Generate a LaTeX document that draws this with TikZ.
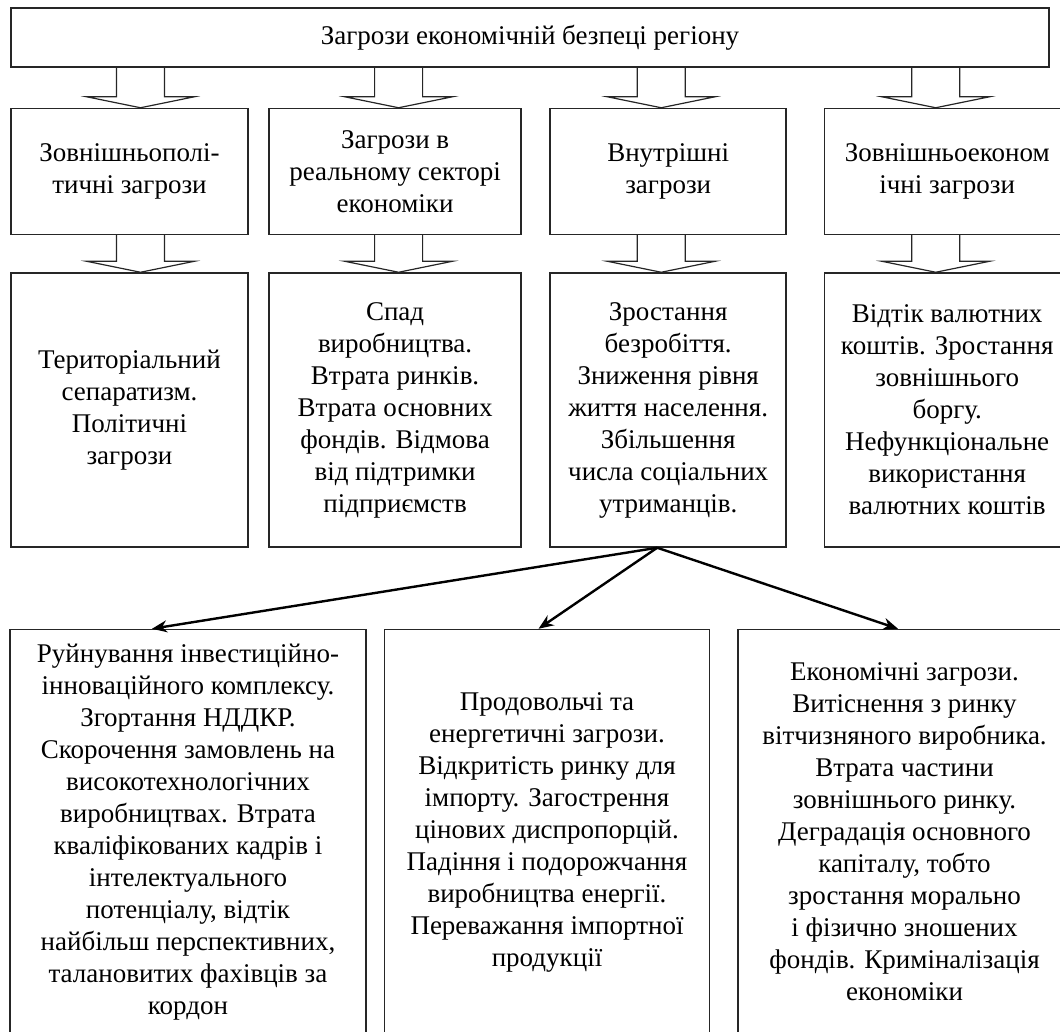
\documentclass[tikz,border=0pt]{standalone}
\usepackage{fontspec}
\setmainfont{Liberation Serif}
\usepackage{tikz}
\usetikzlibrary{positioning,calc,arrows.meta}
\tikzset{
  box/.style={draw=black!85, line width=0.75pt, align=center, inner sep=2pt, font=\fontsize{13.5}{16}\selectfont},
  rowtwo/.style={box, minimum height=63pt},
  rowthree/.style={box, minimum height=137pt},
  rowfour/.style={box, minimum height=202.5pt},
  fat/.style={draw=black!85, line width=0.6pt},
  arrow/.style={-{Stealth[length=7.5pt,width=6pt]}, line width=1.2pt}
}
% hollow block arrow: from node, to node, x offset of the arrow
\newcommand{\fatarrow}[3]{%
  \coordinate (tip) at ($(#2.north)+(#3,0)$);
  \coordinate (root) at (tip |- #1.south);
  \draw[fat] ($(root)+(-24,0)$) -- ($(tip)+(-24,-11)$) -- ++(-30,0) -- (tip)
    -- ++(54,-11) -- ++(-30,0) -- ($(root)+(24,0)$);
}

\begin{document}
\begin{tikzpicture}[x=0.5pt, y=-0.5pt]
  \useasboundingbox (0,0) rectangle (1060,1032);
  \clip (0,0) rectangle (1060,1032);

  \node[box, minimum width=519pt, minimum height=29.5pt] (threats) at (530,37.5) {Загрози економічній безпеці регіону};

  \node[rowtwo, minimum width=118.5pt, below right=20pt and 0pt of threats.south west] (polit) {Зовнішньополі-\\тичні загрози};
  \node[rowtwo, minimum width=126pt, right=9.8pt of polit] (real) {Загрози в\\реальному секторі\\економіки};
  \node[rowtwo, minimum width=118pt, right=13.8pt of real] (inner) {Внутрішні\\загрози};
  \node[rowtwo, minimum width=122.5pt, right=18.5pt of inner] (foreign) {Зовнішньоеконом\\ічні загрози};

  \node[rowthree, minimum width=118.5pt, below=18.5pt of polit] (separ) {Територіальний\\сепаратизм.\\Політичні\\загрози};
  \node[rowthree, minimum width=126pt, below=18.5pt of real] (prod) {Спад\\виробництва.\\Втрата ринків.\\Втрата основних\\фондів. Відмова\\від підтримки\\підприємств};
  \node[rowthree, minimum width=118pt, below=18.5pt of inner] (social) {Зростання\\безробіття.\\Зниження рівня\\життя населення.\\Збільшення\\числа соціальних\\утриманців.};
  \node[rowthree, minimum width=122.5pt, below=18.5pt of foreign] (currency) {Відтік валютних\\коштів. Зростання\\зовнішнього\\боргу.\\Нефункціональне\\використання\\валютних коштів};

  \node[rowfour, minimum width=178pt, below right=40.5pt and -0.5pt of separ.south west] (invest) {Руйнування інвестиційно-\\інноваційного комплексу.\\Згортання НДДКР.\\Скорочення замовлень на\\високотехнологічних\\виробництвах. Втрата\\кваліфікованих кадрів і\\інтелектуального\\потенціалу, відтік\\найбільш перспективних,\\талановитих фахівців за\\кордон};
  \node[rowfour, minimum width=162.5pt, right=8.5pt of invest] (food) {Продовольчі та\\енергетичні загрози.\\Відкритість ринку для\\імпорту. Загострення\\цінових диспропорцій.\\Падіння і подорожчання\\виробництва енергії.\\Переважання імпортної\\продукції};
  \node[rowfour, minimum width=166.5pt, right=13.5pt of food] (econ) {Економічні загрози.\\Витіснення з ринку\\вітчизняного виробника.\\Втрата частини\\зовнішнього ринку.\\Деградація основного\\капіталу, тобто\\зростання морально\\і фізично зношених\\фондів. Криміналізація\\економіки};

  \fatarrow{threats}{polit}{11}
  \fatarrow{threats}{real}{3.5}
  \fatarrow{threats}{inner}{-7}
  \fatarrow{threats}{foreign}{-11.5}
  \fatarrow{polit}{separ}{11}
  \fatarrow{real}{prod}{3.5}
  \fatarrow{inner}{social}{-7}
  \fatarrow{foreign}{currency}{-11.5}

  \coordinate (fork) at ($(social.south)+(-11,0)$);
  \draw[arrow] (fork) -- ($(invest.north)+(-36,0)$);
  \draw[arrow] (fork) -- ($(food.north)+(-8.5,0)$);
  \draw[arrow] (fork) -- ($(econ.north)+(-6.5,0)$);
\end{tikzpicture}
\end{document}
